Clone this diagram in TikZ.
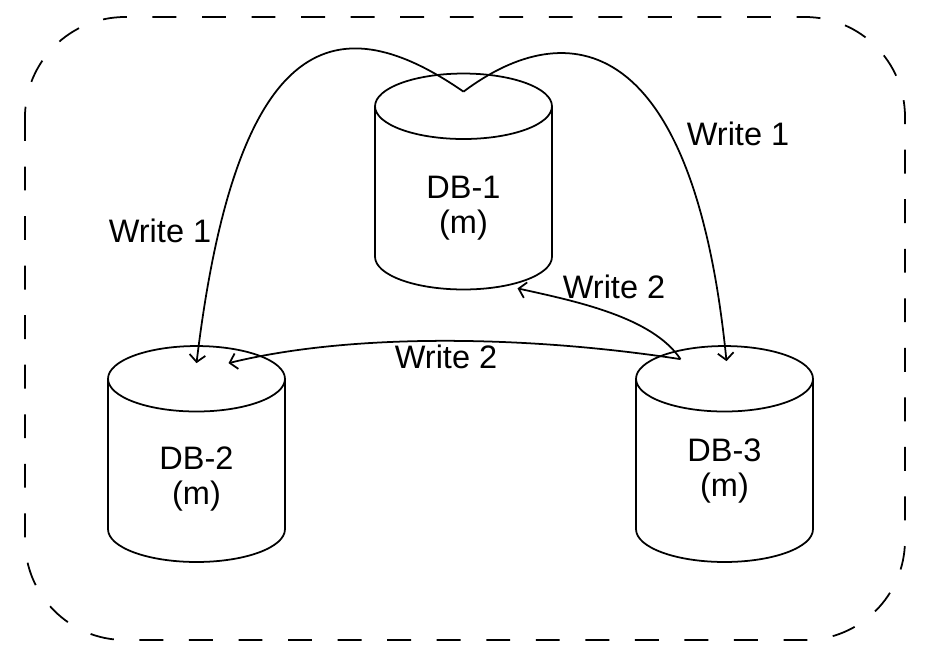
\documentclass[tikz,border=0pt]{standalone}
\usepackage{fontspec}
\setmainfont{Liberation Sans}
\usetikzlibrary{positioning,arrows.meta,shapes.geometric,calc}

\begin{document}
\begin{tikzpicture}[
  x=0.02cm, y=-0.02cm,
  font=\fontsize{18.5}{20}\selectfont,
  >={Straight Barb[length=4pt,width=9pt]},
  % database drum; empty box of fixed width sets the cap size
  db/.style={
    draw, cylinder, shape border rotate=90, aspect=0.37,
    text width=3.54cm, minimum width=3.54cm, minimum height=4.32cm,
    line width=1pt, inner sep=0pt, anchor=shape center
  },
  dbname/.style={align=center, inner sep=0pt},
  flow/.style={->, line width=1pt},
  tag/.style={font=\fontsize{18.5}{20}\selectfont},
]

% Fixed canvas (926 x 657 px)
\useasboundingbox (0,0) rectangle (926,657);

% --- Cluster frame ---
\draw[line width=1pt, dash pattern=on 13.6pt off 14.6pt, rounded corners=2cm]
  (25,17) rectangle (905,640);

% ---------------------------------------------------------------
% Databases
% ---------------------------------------------------------------
\node[db] (db1) at (463.5,181.5) {};
\node[db] (db2) at (196.5,454) {};
\node[db] (db3) at (724.5,454) {};

\node[dbname] (db1 name) at ($(db1.shape center)+(0,27)$) {DB-1\\(m)};
\node[dbname] (db2 name) at ($(db2.shape center)+(0,25)$) {DB-2\\(m)};
\node[dbname] (db3 name) at ($(db3.shape center)+(0,17)$) {DB-3\\(m)};

% Points on the drum tops / bottom
\coordinate (db1 cap) at ($(db1.top)+(0,19)$);
\coordinate (db2 cap) at ($(db2.top)+(0,18)$);
\coordinate (db3 cap) at ($(db3.top)+(2,16)$);
\coordinate (db3 src) at ($(db3.top)+(-44,14)$);
\coordinate (db1 foot) at ($(db1.bottom)+(54,-2)$);
\coordinate (db2 side) at ($(db2.top)+(32,18)$);

% ---------------------------------------------------------------
% Write 1: DB-1 -> DB-2 and DB-3
% ---------------------------------------------------------------
\draw[flow] (db1 cap) .. controls +(-123,-85) and +(41,-340) .. (db2 cap);
\draw[flow] (db1 cap) .. controls +(104,-78) and +(-33,-330) .. (db3 cap);

% ---------------------------------------------------------------
% Write 2: DB-3 -> DB-1 and DB-2
% ---------------------------------------------------------------
\draw[flow] (db3 src) .. controls +(-28,-42) and +(59,13) .. (db1 foot);
\draw[flow] (db3 src) .. controls +(-149,-23) and +(126,-31) .. (db2 side);

% --- Labels ---
\node[tag] (w1left)  at (160,231) {Write 1};
\node[tag] (w1right) at (738,134) {Write 1};
\node[tag] (w2up)    at (614,287) {Write 2};
\node[tag] (w2low)   at (446,357) {Write 2};

\end{tikzpicture}
\end{document}
